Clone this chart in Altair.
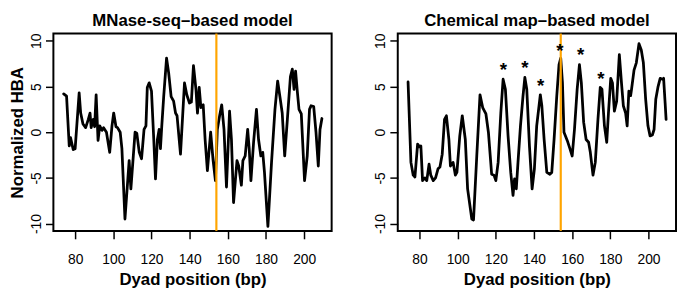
import altair as alt
import pandas as pd

# ---- data ----
mnase_pos = [74.0, 75.5, 76.9, 77.6, 79.0, 80.0, 82.1, 82.9, 84.1, 85.5, 86.9, 87.8, 88.4, 89.5, 90.2,
             91.0, 92.0, 92.9, 94.1, 94.9, 96.4, 98.1, 99.3, 100.2, 101.4, 102.2, 103.6, 104.5, 106.1,
             108.3, 109.2, 111.4, 112.3, 113.6, 114.8, 116.1, 117.1, 117.8, 118.8, 120.0, 121.2, 122.1,
             123.1, 124.0, 124.7, 125.4, 126.4, 127.9, 129.0, 130.3, 131.6, 132.6, 133.4, 135.2, 137.3,
             138.5, 139.9, 140.9, 142.0, 143.3, 144.1, 145.0, 145.9, 147.1, 148.1, 149.3, 151.0, 152.3,
             153.5, 154.5, 155.7, 156.8, 158.0, 159.3, 160.9, 161.9, 163.0, 164.8, 165.7, 167.1, 167.9,
             169.1, 170.4, 171.2, 172.1, 173.5, 175.0, 176.1, 177.3, 178.3, 179.2, 181.0, 182.9, 184.7,
             186.1, 187.3, 188.5, 189.8, 191.2, 192.8, 193.8, 194.7, 195.5, 196.4, 197.3, 198.5, 200.2,
             201.6, 202.8, 203.6, 205.0, 206.2, 207.4, 208.3, 209.3]
mnase_val = [4.2, 3.95, -1.5, -0.6, -1.9, -1.8, 4.3, 2.1, 0.9, 0.5, 1.4, 2.1, 0.5, 1.4, 0.6,
             4.1, -0.9, 0.7, 0.2, 0.5, 0.0, -2.2, 0.7, 2.1, 0.6, 0.5, 0.0, -1.8, -9.5,
             -3.1, -6.2, 0.0, -0.1, -2.2, -2.9, 0.3, 0.7, 4.9, 5.4, 4.5, -0.8, -5.1,
             -0.8, 0.3, -1.8, 0.7, 3.9, 8.1, 6.5, 3.9, 3.4, 2.1, 1.8, -2.4, 5.4,
             4.1, 3.2, 3.3, 7.3, 4.7, 2.1, 4.9, 2.7, 3.0, -0.8, -4.2, 0.0, -3.1,
             -5.3, 0.3, 1.8, 3.0, 0.3, -6.0, 2.3, -0.8, -7.7, -3.1, -3.7, -5.8, -3.1,
             -2.6, 0.3, -1.8, -5.3, -1.1, 2.5, -0.8, -2.6, -2.2, -4.4, -10.3, -3.3, 2.5,
             5.6, 3.9, 2.1, -2.6, 1.4, 6.1, 6.9, 4.7, 6.7, 4.5, 2.5, 2.0, -5.3,
             -2.6, 2.5, 2.9, 2.8, 0.0, -3.7, 0.3, 1.5]

chem_pos = [74.0, 75.5, 76.7, 77.6, 79.0, 80.0, 80.7, 81.6, 82.8, 83.8, 85.0, 85.9, 87.2, 88.4, 89.7,
            90.7, 91.9, 93.1, 94.1, 95.4, 96.2, 97.6, 98.8, 99.6, 101.1, 102.4, 104.0, 105.2, 107.4,
            108.3, 110.0, 111.7, 113.1, 114.8, 116.1, 117.8, 119.0, 120.0, 121.2, 122.6, 123.8, 125.0,
            126.4, 127.8, 129.0, 129.8, 130.7, 131.6, 132.9, 134.2, 135.2, 136.2, 137.6, 139.0, 140.2,
            141.4, 143.3, 144.1, 145.3, 146.7, 148.3, 149.3, 150.5, 151.9, 153.1, 154.0, 154.9, 155.7,
            157.4, 158.8, 160.0, 161.2, 162.6, 163.8, 164.8, 166.0, 167.3, 168.6, 169.5, 170.9, 172.1,
            173.5, 174.7, 175.6, 176.9, 178.1, 179.0, 180.2, 181.1, 182.1, 183.3, 184.7, 185.9, 186.8,
            188.0, 188.8, 189.7, 190.6, 191.1, 192.4, 193.6, 195.0, 196.2, 197.3, 198.5, 199.7, 200.8,
            202.0, 202.9, 203.8, 205.0, 206.1, 207.3, 207.9, 208.7, 209.2]
chem_val = [5.5, -3.3, -4.7, -4.9, -1.3, -1.6, -1.5, -5.3, -5.0, -5.3, -3.5, -4.7, -5.3, -5.0, -4.0,
            -3.8, -2.4, 1.4, 1.8, -0.8, -3.7, -3.3, -4.7, -4.4, -0.4, 1.8, -0.8, -6.2, -9.5,
            -9.6, -2.6, 4.1, 2.7, 2.0, 0.0, -4.6, -4.7, -5.3, -3.3, 2.1, 5.8, 4.7,
            -0.4, -4.4, -6.9, -5.1, -6.2, -3.3, 0.7, 3.9, 6.0, 4.7, -1.5, -6.2, -4.0,
            0.7, 4.1, 2.9, -0.8, -4.4, -4.6, -4.4, -0.8, 3.9, 7.4, 8.1, 5.4, 0.0,
            -0.9, -1.8, -2.6, 0.3, 4.7, 7.4, 5.4, 1.1, -0.8, -1.1, -2.2, -4.7, -3.3,
            1.4, 4.9, 4.7, 0.7, -1.1, 2.1, 5.9, 5.4, 2.3, 3.4, 8.5, 5.2, 2.9,
            2.1, 0.7, 4.5, 4.0, 4.7, 6.8, 7.6, 9.7, 9.0, 7.6, 3.6, 0.7, -0.4,
            -0.3, 0.3, 3.6, 5.0, 5.9, 5.8, 5.9, 3.2, 1.4]

star_pos = [124.0, 135.2, 143.5, 153.6, 164.4, 175.0]
star_val = [7.2, 7.5, 5.5, 9.3, 8.9, 6.2]

dyad_mark = [154]
x_ticks = [80, 100, 120, 140, 160, 180, 200]
y_ticks = [-10, -5, 0, 5, 10]
x_domain = [68.6, 214.4]
y_domain = [-10.8, 10.8]

FONT = "Liberation Sans"


def panel(pos, val, title, y_title, stars=None):
    df = pd.DataFrame({"pos": pos, "val": val})
    xs = alt.Scale(domain=x_domain, nice=False, zero=False)
    ys = alt.Scale(domain=y_domain, nice=False, zero=False)
    x_axis = alt.Axis(values=x_ticks, title="Dyad position (bp)")
    if y_title:
        y_axis = alt.Axis(values=y_ticks, title=y_title, labelExpr="'' + datum.value")
    else:
        y_axis = alt.Axis(values=y_ticks, title=None, labelExpr="'' + datum.value")
    line = alt.Chart(df).mark_line(color="black", strokeWidth=2.8,
                                   strokeJoin="round", strokeCap="round").encode(
        x=alt.X("pos:Q", scale=xs, axis=x_axis),
        y=alt.Y("val:Q", scale=ys, axis=y_axis),
    )
    rule = alt.Chart(pd.DataFrame({"pos": dyad_mark})).mark_rule(
        color="#FFA500", strokeWidth=2.2).encode(x=alt.X("pos:Q", scale=xs))
    layers = [line, rule]
    if stars is not None:
        sdf = pd.DataFrame({"pos": stars[0], "val": stars[1]})
        txt = alt.Chart(sdf).mark_text(text="*", font=FONT, fontSize=19, fontWeight="bold",
                                       baseline="alphabetic", dy=10, color="black").encode(
            x=alt.X("pos:Q", scale=xs), y=alt.Y("val:Q", scale=ys))
        layers.append(txt)
    return alt.layer(*layers).properties(
        width=282, height=200,
        title=alt.TitleParams(title, font=FONT, fontSize=17, fontWeight="bold",
                              color="black", anchor="middle", offset=3),
    )


left = panel(mnase_pos, mnase_val, "MNase-seq\u2013based model", "Normalized HBA")
right = panel(chem_pos, chem_val, "Chemical map\u2013based model", None,
              stars=(star_pos, star_val))

chart = alt.hconcat(left, right, spacing=41).properties(
    padding={"left": 0, "top": 0, "right": 0, "bottom": 0}
).configure_view(
    stroke="black", strokeWidth=2
).configure_axis(
    grid=False, domain=False, tickColor="black", tickSize=8, tickWidth=1.5,
    labelFont=FONT, labelFontSize=14, labelColor="black",
    titleFont=FONT, titleFontSize=17, titleFontWeight="bold", titleColor="black",
).configure_axisX(
    labelPadding=14, titlePadding=5
).configure_axisY(
    labelAngle=270, labelAlign="center", labelBaseline="alphabetic",
    labelPadding=5, titlePadding=3
)

chart.save("out.html", embed_options={"renderer": "svg", "actions": False})
